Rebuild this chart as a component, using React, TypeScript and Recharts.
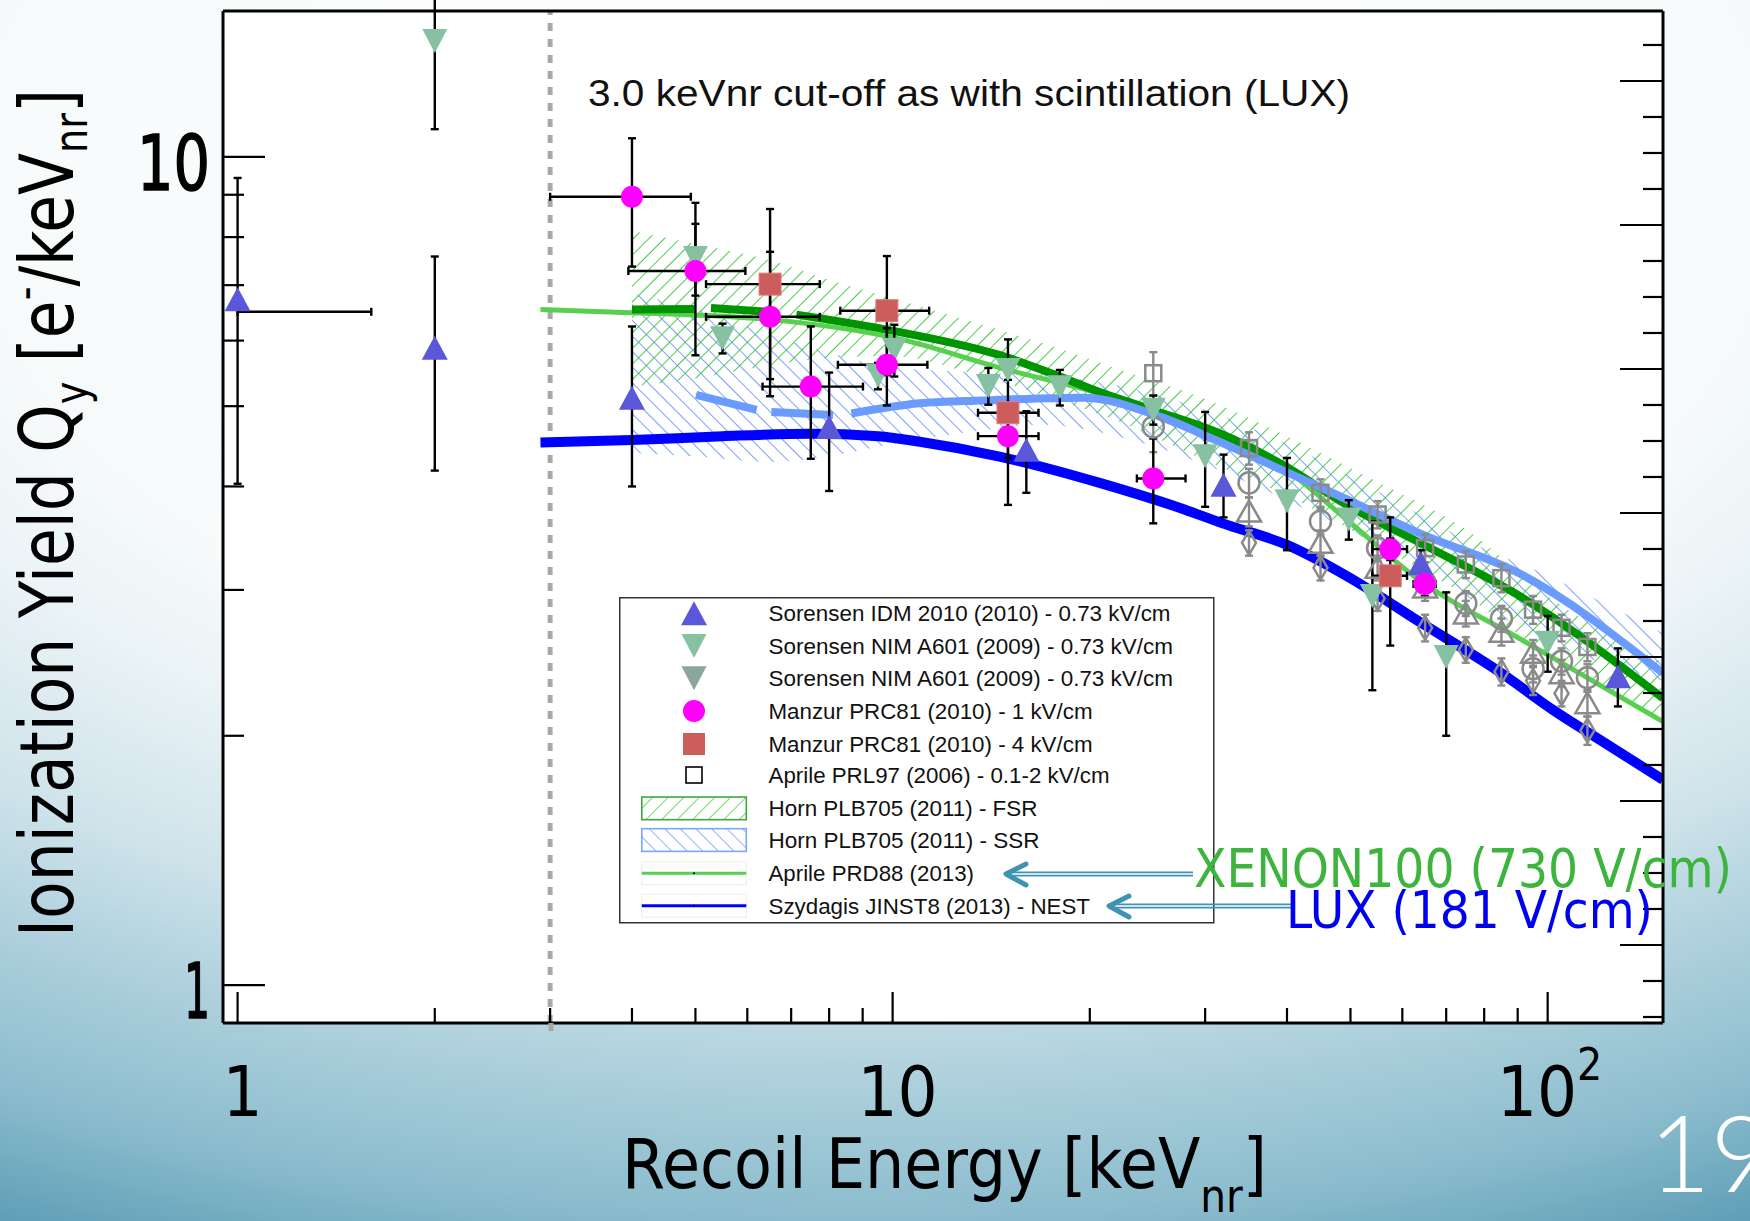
import React from 'react';
import {
  ComposedChart,
  XAxis,
  YAxis,
  Scatter,
  Line,
  Area,
  ErrorBar,
  ReferenceLine,
  Legend,
  Customized,
} from 'recharts';

// ---------- axes ----------
const xDomain: [number, number] = [0.95, 150];
const yDomain: [number, number] = [0.9, 15];
const xTicks = [1, 2, 3, 4, 5, 6, 7, 8, 9, 10, 20, 30, 40, 50, 60, 70, 80, 90, 100];
const xMajor = [1, 10, 100];
const yTicks = [1, 2, 3, 4, 5, 6, 7, 8, 9, 10];
const yMajor = [1, 10];
const rightDomain: [number, number] = [-0.1667, 27.944];
const rightTicks = [0, 1, 2, 3, 4, 5, 6, 7, 8, 9, 10, 11, 12, 13, 14, 15, 16, 17, 18, 19, 20, 21, 22, 23, 24, 25, 26, 27];
const cutoffE = 3;

// ---------- Sorensen IDM 2010 (0.73 kV/cm) ----------
const idmE = [1, 2, 4, 8, 16, 32, 64, 128];
const idmQ = [6.73, 5.88, 5.12, 4.72, 4.43, 4.02, 3.23, 2.36];
const idmErr = [2.7, 1.7, 1.12, 0.77, 0.5, 0.35, 0.12, 0.19];
const idmBinE = [1];
const idmBinQ = [6.5];
const idmBinErr = [[0, 0.6]];

// ---------- Sorensen NIM A601 (2009) ----------
const nimE = [2, 5, 5.5, 9.5, 10.06, 14, 15, 18, 25, 30, 40, 49.7, 54, 70, 100];
const nimQ = [13.8, 7.55, 6.04, 5.44, 5.85, 5.29, 5.53, 5.27, 4.95, 4.35, 3.84, 3.65, 2.95, 2.49, 2.59];
const nimErr = [3.0, 0.75, 0.25, 0.2, 0.42, 0.27, 0.15, 0.26, 0.2, 0.57, 0.49, 0.2, 0.68, 0.49, 0.2];

// ---------- Manzur PRC81 (2010), 1 kV/cm ----------
const m1E = [4.0, 5.0, 6.5, 7.5, 9.8, 15.0, 25.0, 57.5, 64.9];
const m1Q = [8.95, 7.28, 6.41, 5.28, 5.61, 4.6, 4.09, 3.36, 3.05];
const m1ErrQ = [1.58, 1.52, 1.27, 0.96, 0.6, 0.27, 0.48, 0.1, 0.1];
const m1ErrE = [[1.0, 0.92], [1.05, 0.96], [1.31, 1.24], [1.17, 1.51], [1.55, 1.5], [1.5, 1.7], [1.4, 3.0], [3.5, 3.5], [2.5, 2.6]];

// ---------- Manzur PRC81 (2010), 4 kV/cm ----------
const m4E = [6.5, 9.8, 15.0, 57.5];
const m4Q = [7.02, 6.52, 4.91, 3.12];
const m4ErrQ = [1.63, 1.07, 1.11, 0.55];
const m4ErrE = [[1.31, 1.24], [1.48, 1.57], [1.5, 1.7], [3.5, 3.5]];

// ---------- Aprile PRL97 (2006), 0.1-2 kV/cm ----------
const prlE = [25, 35, 45, 55, 65, 75, 85, 95, 105, 115];
const prlSqQ = [5.48, 4.45, 3.93, 3.7, 3.37, 3.22, 3.1, 2.84, 2.7, 2.56];
const prlSqErr = [0.33, 0.2, 0.15, 0.14, 0.13, 0.12, 0.12, 0.11, 0.1, 0.1];
const prlCiQ = [4.72, 4.04, 3.63, 3.37, 3.06, 2.89, 2.77, 2.41, 2.46, 2.35];
const prlCiErr = [0.32, 0.16, 0.13, 0.12, 0.11, 0.1, 0.1, 0.09, 0.09, 0.09];
const prlLowE = [35, 45, 55, 65, 75, 85, 95, 105, 115];
const prlTrQ = [3.73, 3.42, 3.19, 3.02, 2.81, 2.67, 2.52, 2.38, 2.19];
const prlTrErr = [0.15, 0.12, 0.11, 0.11, 0.1, 0.1, 0.09, 0.09, 0.08];
const prlDiQ = [3.42, 3.19, 2.93, 2.7, 2.54, 2.39, 2.33, 2.25, 2.03];
const prlDiErr = [0.12, 0.11, 0.1, 0.1, 0.09, 0.09, 0.09, 0.08, 0.08];

// ---------- Horn PLB705 (2011) bands and central curves ----------
const bandE = [4, 5, 6.5, 8, 10, 13, 17, 22, 30, 40, 55, 75, 100, 150];
const fsrLo = [5.28, 5.4, 5.6, 5.72, 5.75, 5.5, 5.15, 4.8, 4.3, 3.9, 3.4, 2.95, 2.5, 2.1];
const fsrHi = [8.14, 7.85, 7.5, 7.1, 6.75, 6.35, 5.95, 5.55, 5.1, 4.6, 4.05, 3.55, 2.95, 2.45];
const ssrLo = [4.39, 4.35, 4.28, 4.35, 4.5, 4.65, 4.75, 4.6, 4.25, 3.85, 3.4, 2.95, 2.6, 2.33];
const ssrHi = [6.84, 6.55, 6.1, 5.8, 5.57, 5.5, 5.45, 5.3, 4.95, 4.5, 3.95, 3.45, 3.12, 2.66];

const fsrE = [4.0, 4.98, 5.13, 5.28, 6.45, 6.8, 7.13, 10.3, 14.5, 18, 20.7, 25.3, 31.5, 40, 49.3, 63.8, 90.6, 150];
const fsrQ = [6.54, 6.55, null, 6.57, 6.5, null, 6.45, 6.14, 5.77, 5.43, 5.2, 4.93, 4.64, 4.22, 3.8, 3.42, 2.95, 2.22];
const ssrE = [5.01, 6.2, 6.35, 6.53, 8.11, 8.4, 8.65, 11.0, 13.7, 19.5, 25.7, 31.5, 40, 49.3, 63.8, 90.6, 150];
const ssrQ = [5.16, 4.95, null, 4.92, 4.88, null, 4.9, 5.04, 5.08, 5.12, 4.85, 4.53, 4.16, 3.86, 3.51, 3.14, 2.38];

// ---------- Aprile PRD88 (2013) and NEST (2013) ----------
const prdE = [2.9, 3.6, 6.5, 10.3, 14.5, 20.7, 27.4, 31.5, 40, 49.3, 63.8, 90.6, 150];
const prdQ = [6.54, 6.5, 6.36, 6.02, 5.57, 5.18, 4.82, 4.59, 4.18, 3.65, 3.08, 2.62, 2.08];
const nestE = [2.9, 4, 5.5, 7.5, 9.5, 11, 14.5, 20.7, 27.4, 31.9, 40, 49.3, 64, 85, 101.8, 118.6, 150];
const nestQ = [4.52, 4.55, 4.6, 4.63, 4.6, 4.53, 4.35, 4.04, 3.77, 3.61, 3.4, 3.12, 2.74, 2.38, 2.15, 1.99, 1.77];

// ---------- legend / text ----------
const legendLabels = [
  'Sorensen IDM 2010 (2010) - 0.73 kV/cm',
  'Sorensen NIM A601 (2009) - 0.73 kV/cm',
  'Sorensen NIM A601 (2009) - 0.73 kV/cm',
  'Manzur PRC81 (2010) - 1 kV/cm',
  'Manzur PRC81 (2010) - 4 kV/cm',
  'Aprile PRL97 (2006) - 0.1-2 kV/cm',
  'Horn PLB705 (2011) - FSR',
  'Horn PLB705 (2011) - SSR',
  'Aprile PRD88 (2013)',
  'Szydagis JINST8 (2013) - NEST',
];
const cutoffText = '3.0 keVnr cut-off as with scintillation (LUX)';
const xenonText = 'XENON100 (730 V/cm)';
const luxText = 'LUX (181 V/cm)';
const slideNumber = '19';

// ---------- table builders ----------
const pts = (E: number[], Q: (number | null)[], extra?: Record<string, any[]>) =>
  E.map((x, i) => {
    const row: any = { x, y: Q[i] };
    if (extra) Object.keys(extra).forEach((k) => (row[k] = extra[k][i]));
    return row;
  });

const idmData = pts(idmE, idmQ, { ey: idmErr });
const idmBinData = pts(idmBinE, idmBinQ, { ex: idmBinErr });
const nimData = pts(nimE, nimQ, { ey: nimErr });
const m1Data = pts(m1E, m1Q, { ey: m1ErrQ, ex: m1ErrE });
const m4Data = pts(m4E, m4Q, { ey: m4ErrQ, ex: m4ErrE });
const prlSqData = pts(prlE, prlSqQ, { ey: prlSqErr });
const prlCiData = pts(prlE, prlCiQ, { ey: prlCiErr });
const prlTrData = pts(prlLowE, prlTrQ, { ey: prlTrErr });
const prlDiData = pts(prlLowE, prlDiQ, { ey: prlDiErr });
const fsrBand = bandE.map((x, i) => ({ x, band: [fsrLo[i], fsrHi[i]] }));
const ssrBand = bandE.map((x, i) => ({ x, band: [ssrLo[i], ssrHi[i]] }));
const fsrLine = pts(fsrE, fsrQ);
const ssrLine = pts(ssrE, ssrQ);
const prdLine = pts(prdE, prdQ);
const nestLine = pts(nestE, nestQ);

// ---------- styling ----------
const NARROW = "'Liberation Sans Narrow', 'DejaVu Sans Condensed', 'Liberation Sans', sans-serif";
const SANS = "'Liberation Sans', Arial, sans-serif";
const C_IDM = '#5B57D9';
const C_NIM = '#86C2A2';
const C_NIM2 = '#8BA69F';
const C_M1 = '#FF00FF';
const C_M4 = '#CD5C5C';
const C_PRL = '#8A8A8A';
const C_FSR = '#009400';
const C_SSR = '#6B9BFF';
const C_PRD = '#57CF4F';
const C_NEST = '#0000FF';
const C_ARROW = '#3E93B3';
const C_HATCH_G = '#33C833';
const C_HATCH_B = '#4A80FF';

// ---------- marker shapes ----------
const TriUp = ({ cx, cy, fill, w = 26, h = 24 }: any) => (
  <polygon points={`${cx},${cy - h / 2} ${cx - w / 2},${cy + h / 2} ${cx + w / 2},${cy + h / 2}`} fill={fill} />
);
const TriDown = ({ cx, cy, fill, w = 25, h = 24 }: any) => (
  <polygon points={`${cx - w / 2},${cy - h / 2} ${cx + w / 2},${cy - h / 2} ${cx},${cy + h / 2}`} fill={fill} />
);
const Dot = ({ cx, cy, fill, r = 11 }: any) => <circle cx={cx} cy={cy} r={r} fill={fill} />;
const Sq = ({ cx, cy, fill, s = 22 }: any) => (
  <rect x={cx - s / 2} y={cy - s / 2} width={s} height={s} fill={fill} stroke="#E07E7E" strokeWidth={1} />
);
const OpenSq = ({ cx, cy }: any) => (
  <rect x={cx - 8} y={cy - 8} width={16} height={16} fill="none" stroke={C_PRL} strokeWidth={2.5} />
);
const OpenCi = ({ cx, cy }: any) => <circle cx={cx} cy={cy} r={10.5} fill="none" stroke={C_PRL} strokeWidth={2.5} />;
const OpenTr = ({ cx, cy }: any) => (
  <polygon points={`${cx},${cy - 11} ${cx - 12},${cy + 10} ${cx + 12},${cy + 10}`} fill="none" stroke={C_PRL} strokeWidth={2.5} />
);
const OpenDi = ({ cx, cy }: any) => (
  <polygon points={`${cx},${cy - 12} ${cx + 7},${cy} ${cx},${cy + 12} ${cx - 7},${cy}`} fill="none" stroke={C_PRL} strokeWidth={2.5} />
);
const NoMark = () => <g />;

// ---------- axis tick renderers ----------
const BottomTick = (p: any) => {
  const v = p.payload.value;
  const major = xMajor.includes(v);
  return (
    <g>
      <line x1={p.x} x2={p.x} y1={p.y} y2={p.y - (major ? 31 : 15)} stroke="#000" strokeWidth={2.2} />
      {major && v === 100 && (
        <text x={p.x + 2} y={p.y + 93} textAnchor="middle" fontSize={70} fontFamily={NARROW} fill="#000">
          10<tspan fontSize={44} dy={-36}>2</tspan>
        </text>
      )}
      {major && v !== 100 && (
        <text x={p.x + 5} y={p.y + 93} textAnchor="middle" fontSize={70} fontFamily={NARROW} fill="#000">
          {String(v)}
        </text>
      )}
    </g>
  );
};
const TopTick = (p: any) => {
  const v = p.payload.value;
  const major = xMajor.includes(v);
  return <line x1={p.x} x2={p.x} y1={p.y} y2={p.y + (major ? 31 : 15)} stroke="#000" strokeWidth={2.2} />;
};
const LeftTick = (p: any) => {
  const v = p.payload.value;
  const major = yMajor.includes(v);
  return (
    <g>
      <line x1={p.x} x2={p.x + (major ? 42 : 21)} y1={p.y} y2={p.y} stroke="#000" strokeWidth={2.2} />
      {major && (
        <text
          x={p.x - 13}
          y={p.y + 33}
          textAnchor="end"
          fontSize={76}
          fontFamily="'DejaVu Sans', sans-serif"
          fill="#000"
          stroke="#000"
          strokeWidth={1.6}
          textLength={v === 10 ? 73 : 26}
          lengthAdjust="spacingAndGlyphs"
        >
          {String(v)}
        </text>
      )}
    </g>
  );
};
const RightTick = (p: any) => {
  const v = p.payload.value;
  const long = v % 4 === 2;
  return <line x1={p.x} x2={p.x - (long ? 43 : 20)} y1={p.y} y2={p.y} stroke="#000" strokeWidth={2.2} />;
};

// ---------- titles and patterns inside the chart ----------
const Overlay = () => (
  <g>
    <defs>
      <pattern id="hatchFSR" width="11" height="11" patternUnits="userSpaceOnUse" patternTransform="rotate(45)">
        <line x1="0" y1="0" x2="0" y2="11" stroke={C_HATCH_G} strokeWidth="1.8" />
      </pattern>
      <pattern id="hatchSSR" width="11" height="11" patternUnits="userSpaceOnUse" patternTransform="rotate(-45)">
        <line x1="0" y1="0" x2="0" y2="11" stroke={C_HATCH_B} strokeWidth="1.5" />
      </pattern>
    </defs>
    <text
      transform="translate(73,937) rotate(-90)"
      fontSize={74}
      fontFamily={NARROW}
      fill="#000"
      textLength={848}
      lengthAdjust="spacingAndGlyphs"
    >
      Ionization Yield Q<tspan fontSize={46} dy={14}>y</tspan>
      <tspan dy={-14}> [e</tspan>
      <tspan fontSize={46} dy={-32}>-</tspan>
      <tspan dy={32}>/keV</tspan>
      <tspan fontSize={46} dy={14}>nr</tspan>
      <tspan dy={-14}>]</tspan>
    </text>
    <text x={622} y={1188} fontSize={70} fontFamily={NARROW} fill="#000" textLength={645} lengthAdjust="spacingAndGlyphs">
      Recoil Energy [keV<tspan fontSize={46} dy={24}>nr</tspan>
      <tspan dy={-24}>]</tspan>
    </text>
    <text x={588} y={106} fontSize={36} fontFamily={SANS} fill="#111" textLength={762} lengthAdjust="spacingAndGlyphs">
      {cutoffText}
    </text>
    <text x={1649} y={1192} fontSize={106} fontFamily="Lato, 'Open Sans', sans-serif" fontWeight={300} fill="#FFFFFF">
      {slideNumber}
    </text>
  </g>
);

// ---------- annotations drawn above the legend ----------
const Annotations = () => (
  <svg width={1750} height={1221} style={{ position: 'absolute', left: 0, top: 0, pointerEvents: 'none' }}>
    <line x1={551} x2={551} y1={1023} y2={1031} stroke="#A8A8A8" strokeWidth={5} />
    <g stroke={C_ARROW} fill="none">
      <line x1={1006} x2={1193} y1={872.3} y2={872.3} strokeWidth={1.8} />
      <line x1={1006} x2={1193} y1={875.6} y2={875.6} strokeWidth={1.8} />
      <polyline points="1026,864 1006,874 1026,885" strokeWidth={5} strokeLinecap="round" strokeLinejoin="round" />
      <line x1={1110} x2={1292} y1={904.4} y2={904.4} strokeWidth={1.8} />
      <line x1={1110} x2={1292} y1={907.7} y2={907.7} strokeWidth={1.8} />
      <polyline points="1129,896 1109,906 1129,917" strokeWidth={5} strokeLinecap="round" strokeLinejoin="round" />
    </g>
    <text x={1194} y={887} fontSize={54} fontFamily={NARROW} fill="#3DB43D" textLength={538} lengthAdjust="spacingAndGlyphs">
      {xenonText}
    </text>
    <text x={1286} y={928} fontSize={52} fontFamily={NARROW} fill="#0000F0" textLength={367} lengthAdjust="spacingAndGlyphs">
      {luxText}
    </text>
  </svg>
);

// ---------- legend box ----------
const rowY = [16.3, 49, 81.3, 114, 147, 178, 211.3, 243, 276.3, 308.7];
const rowW = [402, 404.5, 404.5, 324, 324, 341, 269, 271, 205.5, 321.5];
const LegendBox = () => (
  <svg width={596} height={327} style={{ display: 'block' }}>
    <defs>
      <pattern id="lgFSR" width="11" height="11" patternUnits="userSpaceOnUse" patternTransform="rotate(45)">
        <line x1="0" y1="0" x2="0" y2="11" stroke={C_HATCH_G} strokeWidth="1.4" />
      </pattern>
      <pattern id="lgSSR" width="11" height="11" patternUnits="userSpaceOnUse" patternTransform="rotate(-45)">
        <line x1="0" y1="0" x2="0" y2="11" stroke={C_HATCH_B} strokeWidth="1.2" />
      </pattern>
    </defs>
    <rect x={0.75} y={0.75} width={594} height={325} fill="#fff" stroke="#333" strokeWidth={1.5} />
    <TriUp cx={75} cy={rowY[0]} fill={C_IDM} />
    <TriDown cx={75} cy={rowY[1]} fill={C_NIM} />
    <TriDown cx={75} cy={rowY[2]} fill={C_NIM2} />
    <Dot cx={75} cy={rowY[3]} fill={C_M1} />
    <rect x={64} y={rowY[4] - 11} width={22} height={22} fill={C_M4} />
    <rect x={67} y={rowY[5] - 8} width={16} height={16} fill="none" stroke="#000" strokeWidth={1.6} />
    <rect x={22.8} y={rowY[6] - 11.3} width={104.5} height={22.7} fill="url(#lgFSR)" stroke="#3BAA3B" strokeWidth={1.6} />
    <rect x={22.8} y={rowY[7] - 11.3} width={104.5} height={22.7} fill="url(#lgSSR)" stroke="#7AA6FF" strokeWidth={1.6} />
    <rect x={22.8} y={rowY[8] - 11.5} width={104.5} height={23} fill="none" stroke="#EBEBEB" strokeWidth={1} />
    <line x1={22.8} x2={127.3} y1={rowY[8]} y2={rowY[8]} stroke={C_PRD} strokeWidth={3} />
    <circle cx={75} cy={rowY[8]} r={1} fill="#000" />
    <rect x={22.8} y={rowY[9] - 11.5} width={104.5} height={23} fill="none" stroke="#EBEBEB" strokeWidth={1} />
    <line x1={22.8} x2={127.3} y1={rowY[9]} y2={rowY[9]} stroke={C_NEST} strokeWidth={3} />
    <circle cx={75} cy={rowY[9]} r={1} fill="#000" />
    {legendLabels.map((t, i) => (
      <text
        key={i}
        x={149.5}
        y={rowY[i] + 8}
        fontSize={22.5}
        fontFamily={SANS}
        fill="#111"
        textLength={rowW[i]}
        lengthAdjust="spacingAndGlyphs"
      >
        {t}
      </text>
    ))}
  </svg>
);

const axisLine = { stroke: '#000', strokeWidth: 3 };

export default function App() {
  return (
    <div
      style={{
        position: 'absolute',
        left: 0,
        top: 0,
        width: 1750,
        height: 1221,
        overflow: 'hidden',
        background:
          'radial-gradient(ellipse 2000px 1150px at 50% 15%, #ffffff 0%, #f6fafb 46%, #eaf3f6 55%, #cfe3ea 68%, #b4d4df 76%, #8bbccd 90%, #5f9fb7 100%)',
      }}
    >
      <div style={{ position: 'absolute', left: 223, top: 11, width: 1440, height: 1012, background: '#fff' }} />
      <div style={{ position: 'absolute', left: 0, top: 0 }}>
        <ComposedChart width={1750} height={1221} margin={{ top: 10, right: 86, bottom: 98, left: 0 }}>
          <XAxis
            dataKey="x"
            type="number"
            scale="log"
            domain={xDomain}
            allowDataOverflow
            ticks={xTicks}
            interval={0}
            tickLine={false}
            tickSize={0}
            tickMargin={0}
            tick={(p: any) => <BottomTick {...p} />}
            axisLine={axisLine}
            height={100}
          />
          <XAxis
            xAxisId="top"
            orientation="top"
            type="number"
            scale="log"
            domain={xDomain}
            allowDataOverflow
            ticks={xTicks}
            interval={0}
            tickLine={false}
            tickSize={0}
            tickMargin={0}
            tick={(p: any) => <TopTick {...p} />}
            axisLine={axisLine}
            height={1}
          />
          <YAxis
            dataKey="y"
            type="number"
            scale="log"
            domain={yDomain}
            allowDataOverflow
            ticks={yTicks}
            interval={0}
            tickLine={false}
            tickSize={0}
            tickMargin={0}
            tick={(p: any) => <LeftTick {...p} />}
            axisLine={axisLine}
            width={223}
          />
          <YAxis
            yAxisId="right"
            orientation="right"
            type="number"
            domain={rightDomain}
            allowDataOverflow
            ticks={rightTicks}
            interval={0}
            tickLine={false}
            tickSize={0}
            tickMargin={0}
            tick={(p: any) => <RightTick {...p} />}
            axisLine={axisLine}
            width={1}
          />

          <Customized component={Overlay} />

          <Area data={ssrBand} dataKey="band" type="monotone" stroke="none" fill="url(#hatchSSR)" fillOpacity={1} isAnimationActive={false} />
          <Area data={fsrBand} dataKey="band" type="monotone" stroke="none" fill="url(#hatchFSR)" fillOpacity={1} isAnimationActive={false} />

          <ReferenceLine x={cutoffE} stroke="#A8A8A8" strokeWidth={5} strokeDasharray="8 8" />

          <Line data={prdLine} dataKey="y" type="monotone" stroke={C_PRD} strokeWidth={5} dot={false} isAnimationActive={false} />
          <Line data={fsrLine} dataKey="y" type="monotone" stroke={C_FSR} strokeWidth={8} dot={false} connectNulls={false} isAnimationActive={false} />
          <Line data={ssrLine} dataKey="y" type="monotone" stroke={C_SSR} strokeWidth={8} dot={false} connectNulls={false} isAnimationActive={false} />
          <Line data={nestLine} dataKey="y" type="monotone" stroke={C_NEST} strokeWidth={10} dot={false} isAnimationActive={false} />

          <Scatter data={prlSqData} shape={(p: any) => <OpenSq cx={p.cx} cy={p.cy} />} isAnimationActive={false}>
            <ErrorBar dataKey="ey" direction="y" width={4} stroke={C_PRL} strokeWidth={2.4} />
          </Scatter>
          <Scatter data={prlCiData} shape={(p: any) => <OpenCi cx={p.cx} cy={p.cy} />} isAnimationActive={false}>
            <ErrorBar dataKey="ey" direction="y" width={4} stroke={C_PRL} strokeWidth={2.4} />
          </Scatter>
          <Scatter data={prlTrData} shape={(p: any) => <OpenTr cx={p.cx} cy={p.cy} />} isAnimationActive={false}>
            <ErrorBar dataKey="ey" direction="y" width={4} stroke={C_PRL} strokeWidth={2.4} />
          </Scatter>
          <Scatter data={prlDiData} shape={(p: any) => <OpenDi cx={p.cx} cy={p.cy} />} isAnimationActive={false}>
            <ErrorBar dataKey="ey" direction="y" width={4} stroke={C_PRL} strokeWidth={2.4} />
          </Scatter>

          <Scatter data={nimData} shape={(p: any) => <TriDown cx={p.cx} cy={p.cy} fill={C_NIM} />} isAnimationActive={false}>
            <ErrorBar dataKey="ey" direction="y" width={4} stroke="#000" strokeWidth={2.4} />
          </Scatter>
          <Scatter data={idmBinData} shape={NoMark} isAnimationActive={false}>
            <ErrorBar dataKey="ex" direction="x" width={4} stroke="#000" strokeWidth={2.4} />
          </Scatter>
          <Scatter data={idmData} shape={(p: any) => <TriUp cx={p.cx} cy={p.cy} fill={C_IDM} />} isAnimationActive={false}>
            <ErrorBar dataKey="ey" direction="y" width={4} stroke="#000" strokeWidth={2.4} />
          </Scatter>
          <Scatter data={m4Data} shape={(p: any) => <Sq cx={p.cx} cy={p.cy} fill={C_M4} />} isAnimationActive={false}>
            <ErrorBar dataKey="ey" direction="y" width={4} stroke="#000" strokeWidth={2.4} />
            <ErrorBar dataKey="ex" direction="x" width={4} stroke="#000" strokeWidth={2.4} />
          </Scatter>
          <Scatter data={m1Data} shape={(p: any) => <Dot cx={p.cx} cy={p.cy} fill={C_M1} />} isAnimationActive={false}>
            <ErrorBar dataKey="ey" direction="y" width={4} stroke="#000" strokeWidth={2.4} />
            <ErrorBar dataKey="ex" direction="x" width={4} stroke="#000" strokeWidth={2.4} />
          </Scatter>

          <Legend
            layout="vertical"
            align="center"
            verticalAlign="middle"
            content={() => <LegendBox />}
            wrapperStyle={{ left: 619, top: 597, width: 596, height: 327 }}
          />
        </ComposedChart>
      </div>
      <Annotations />
    </div>
  );
}
